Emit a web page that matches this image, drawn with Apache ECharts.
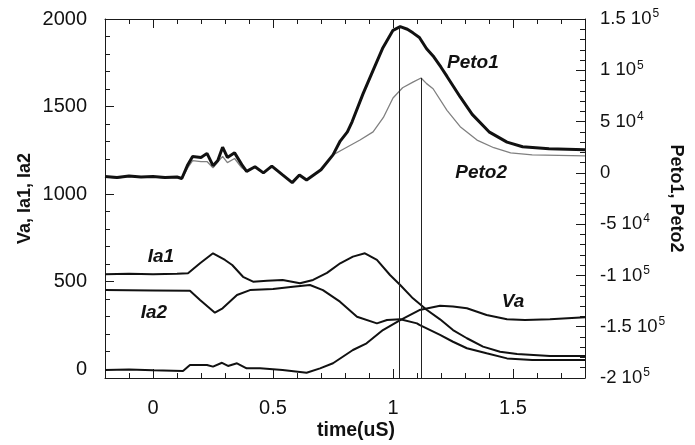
<!DOCTYPE html>
<html>
<head>
<meta charset="utf-8">
<script src="https://cdn.jsdelivr.net/npm/echarts@6/dist/echarts.min.js"></script>
<style>
html,body{margin:0;padding:0;background:#fff;}
#c{width:695px;height:445px;}
</style>
</head>
<body>
<div id="c"></div>
<script>
// ---- data ----
const xMajor = [0, 0.5, 1, 1.5];
const xMinor = [-0.2,-0.1,0,0.1,0.2,0.3,0.4,0.5,0.6,0.7,0.8,0.9,1,1.1,1.2,1.3,1.4,1.5,1.6,1.7,1.8];
const leftMajor = [0, 500, 1000, 1500, 2000];
const leftMinor = [0,100,200,300,400,500,600,700,800,900,1000,1100,1200,1300,1400,1500,1600,1700,1800,1900,2000];

const peto1T = [-0.2,-0.15,-0.1,-0.05,0,0.05,0.1,0.12,0.145,0.165,0.2,0.225,0.25,0.27,0.29,0.31,0.34,0.37,0.39,0.425,0.46,0.495,0.54,0.58,0.61,0.64,0.7,0.75,0.78,0.81,0.83,0.875,0.917,0.958,1.0,1.03,1.06,1.083,1.11,1.14,1.167,1.2,1.225,1.28,1.33,1.4,1.475,1.54,1.65,1.8];
const peto1V = [-3500,-4500,-3000,-4000,-3500,-4500,-4000,-5500,8000,16000,15000,19000,7000,12000,25000,15000,19500,8000,1500,6000,0,6500,-2000,-9500,-2000,-7000,3000,17500,31000,40000,50000,77000,100000,122000,139000,142500,140000,136500,132000,121000,114000,103000,94000,74000,57000,40000,30000,25500,23500,22500];

const peto2T = [-0.2,-0.15,-0.1,-0.05,0,0.05,0.1,0.12,0.145,0.165,0.2,0.225,0.25,0.29,0.31,0.34,0.37,0.39,0.425,0.46,0.495,0.54,0.58,0.61,0.64,0.7,0.75,0.8,0.8625,0.917,0.96,1.0,1.04,1.083,1.117,1.14,1.167,1.225,1.28,1.35,1.42,1.49,1.58,1.8];
const peto2V = [-4000,-5000,-3500,-4500,-4000,-5000,-4500,-6000,5000,12000,11000,11000,5000,16000,10000,14000,5000,1500,6000,0,6500,-2000,-9500,-2000,-7000,3000,17500,24000,32000,40000,54000,73000,83000,88500,92500,87000,82000,61000,45000,32000,24500,19500,17500,16500];

const ia1T = [-0.2,-0.1,0,0.1,0.146,0.196,0.25,0.3,0.33,0.375,0.417,0.475,0.54,0.6125,0.667,0.725,0.78,0.833,0.883,0.933,0.9875,1.03,1.083,1.14,1.196,1.25,1.308,1.375,1.446,1.517,1.654,1.8];
const ia1V = [542,545,542,545,548,605,662,624,595,528,500,506,510,491,510,550,605,643,662,624,538,481,405,340,285,224,177,129,100,87,76,76];

const ia2T = [-0.2,0,0.154,0.196,0.258,0.29,0.35,0.404,0.5,0.583,0.654,0.708,0.779,0.85,0.933,0.975,1.03,1.1,1.11,1.196,1.25,1.308,1.39,1.475,1.58,1.8];
const ia2V = [452,450,448,395,323,348,424,452,458,471,481,452,386,300,262,281,285,262,253,196,157,120,91,62,53,53];

const vaT = [-0.2,-0.1,0,0.125,0.154,0.225,0.25,0.2875,0.3125,0.35,0.39,0.446,0.54,0.64,0.696,0.75,0.833,0.89,0.958,1.03,1.11,1.196,1.25,1.308,1.39,1.475,1.55,1.654,1.8];
const vaV = [-4,-2,-6,-10,24,24,15,37,19,34,5,5,-4,-20,5,34,110,148,224,281,338,362,358,348,310,285,281,285,297];

// vertical marker lines: [time, top value on right axis]
const marker1 = [1.025, 142500];
const marker2 = [1.117, 92500];

// curve name labels [text, time, value]
const peto1Label = ['Peto1', 1.333, 107000];
const peto2Label = ['Peto2', 1.367, 0];
const ia1Label = ['Ia1', 0.033, 641];
const ia2Label = ['Ia2', 0.004, 321];
const vaLabel = ['Va', 1.5, 384];

function zip(t, v) { return t.map((x, i) => [x, v[i]]); }

const FONT = '"Liberation Sans", Arial, sans-serif';
const AX = '#1a1a1a';

function sci(v) {
  if (v === 0) return '{b|0}';
  const a = Math.abs(v);
  const e = Math.floor(Math.log10(a) + 1e-9);
  const m = Math.round(v / Math.pow(10, e) * 100) / 100;
  return '{b|' + m + ' 10}{s|' + e + '}';
}

function nameLabel(l) {
  return {
    symbol: 'circle', symbolSize: 0, silent: true,
    label: { show: true, position: 'inside', formatter: l[0], fontFamily: FONT, fontSize: 19,
      fontWeight: 'bold', fontStyle: 'italic', color: '#111' },
    data: [{ coord: [l[1], l[2]] }]
  };
}

const xRange = { min: -0.2, max: 1.8, type: 'value' };
const lineOn = { show: true, onZero: false, lineStyle: { color: AX, width: 1 } };
const lineOff = { show: false, onZero: false };

const option = {
  animation: false,
  backgroundColor: '#fff',
  grid: { left: 105, right: 110, top: 19, bottom: 67, containLabel: false, outerBoundsMode: 'none' },
  xAxis: [
    Object.assign({}, xRange, {
      position: 'bottom',
      name: 'time(uS)', nameLocation: 'middle', nameGap: 43, nameMoveOverlap: false,
      nameTextStyle: { fontFamily: FONT, fontSize: 19.5, fontWeight: 'bold', color: '#111', padding: [0, 0, 0, 22] },
      axisLine: lineOn,
      axisTick: { show: true, inside: true, length: 9, customValues: xMajor, lineStyle: { color: AX } },
      axisLabel: { show: true, customValues: xMajor, margin: 20, fontFamily: FONT, fontSize: 20, color: '#111',
        formatter: v => String(v) },
      splitLine: { show: false }
    }),
    Object.assign({}, xRange, {
      position: 'bottom',
      axisLine: lineOff,
      axisTick: { show: true, inside: true, length: 5, customValues: xMinor, lineStyle: { color: AX } },
      axisLabel: { show: false },
      splitLine: { show: false }
    }),
    Object.assign({}, xRange, {
      position: 'top',
      axisLine: lineOn,
      axisTick: { show: true, inside: true, length: 9, customValues: xMajor, lineStyle: { color: AX } },
      axisLabel: { show: false },
      splitLine: { show: false }
    }),
    Object.assign({}, xRange, {
      position: 'top',
      axisLine: lineOff,
      axisTick: { show: true, inside: true, length: 5, customValues: xMinor, lineStyle: { color: AX } },
      axisLabel: { show: false },
      splitLine: { show: false }
    })
  ],
  yAxis: [
    {
      type: 'value', position: 'left', min: -50, max: 2000,
      name: 'Va, Ia1, Ia2', nameLocation: 'middle', nameGap: 71, nameMoveOverlap: false,
      nameTextStyle: { fontFamily: FONT, fontSize: 18, fontWeight: 'bold', color: '#111' },
      axisLine: lineOn,
      axisTick: { show: true, inside: true, length: 9, customValues: leftMajor, lineStyle: { color: AX } },
      axisLabel: { show: true, customValues: leftMajor, margin: 18, fontFamily: FONT, fontSize: 20, color: '#111',
        formatter: v => String(v) },
      splitLine: { show: false }
    },
    {
      type: 'value', position: 'left', min: -50, max: 2000,
      axisLine: lineOff,
      axisTick: { show: true, inside: true, length: 5, customValues: leftMinor, lineStyle: { color: AX } },
      axisLabel: { show: false },
      splitLine: { show: false }
    },
    {
      type: 'value', position: 'right', min: -200000, max: 150000, interval: 50000,
      name: 'Peto1, Peto2', nameLocation: 'middle', nameGap: 82, nameRotate: -90, nameMoveOverlap: false,
      nameTextStyle: { fontFamily: FONT, fontSize: 18, fontWeight: 'bold', color: '#111' },
      axisLine: lineOn,
      axisTick: { show: true, inside: true, length: 9, lineStyle: { color: AX } },
      minorTick: { show: true, splitNumber: 5, length: 5, lineStyle: { color: AX } },
      axisLabel: {
        show: true, margin: 15, formatter: sci, align: 'left',
        rich: {
          b: { fontFamily: FONT, fontSize: 18.5, color: '#111', lineHeight: 22 },
          s: { fontFamily: FONT, fontSize: 12, color: '#111', verticalAlign: 'top', lineHeight: 22, padding: [0, 0, 8, 1] }
        }
      },
      splitLine: { show: false },
      minorSplitLine: { show: false }
    }
  ],
  series: [
    {
      name: 'Peto2', type: 'line', xAxisIndex: 0, yAxisIndex: 2, showSymbol: false,
      data: zip(peto2T, peto2V),
      lineStyle: { color: '#808080', width: 1.3 },
      markLine: {
        silent: true, symbol: ['none', 'none'], label: { show: false },
        lineStyle: { color: '#222', width: 1, type: 'solid' },
        data: [[{ coord: [marker2[0], marker2[1]] }, { coord: [marker2[0], -200000] }]]
      },
      markPoint: nameLabel(peto2Label)
    },
    {
      name: 'Peto1', type: 'line', xAxisIndex: 0, yAxisIndex: 2, showSymbol: false,
      data: zip(peto1T, peto1V),
      lineStyle: { color: '#111', width: 3 },
      markLine: {
        silent: true, symbol: ['none', 'none'], label: { show: false },
        lineStyle: { color: '#222', width: 1, type: 'solid' },
        data: [[{ coord: [marker1[0], marker1[1]] }, { coord: [marker1[0], -200000] }]]
      },
      markPoint: nameLabel(peto1Label)
    },
    {
      name: 'Ia1', type: 'line', xAxisIndex: 0, yAxisIndex: 0, showSymbol: false,
      data: zip(ia1T, ia1V), lineStyle: { color: '#111', width: 2 },
      markPoint: nameLabel(ia1Label)
    },
    {
      name: 'Ia2', type: 'line', xAxisIndex: 0, yAxisIndex: 0, showSymbol: false,
      data: zip(ia2T, ia2V), lineStyle: { color: '#111', width: 2 },
      markPoint: nameLabel(ia2Label)
    },
    {
      name: 'Va', type: 'line', xAxisIndex: 0, yAxisIndex: 0, showSymbol: false,
      data: zip(vaT, vaV), lineStyle: { color: '#111', width: 2 },
      markPoint: nameLabel(vaLabel)
    }
  ]
};

const chart = echarts.init(document.getElementById('c'), null, { renderer: 'canvas' });
chart.setOption(option);
</script>
</body>
</html>
